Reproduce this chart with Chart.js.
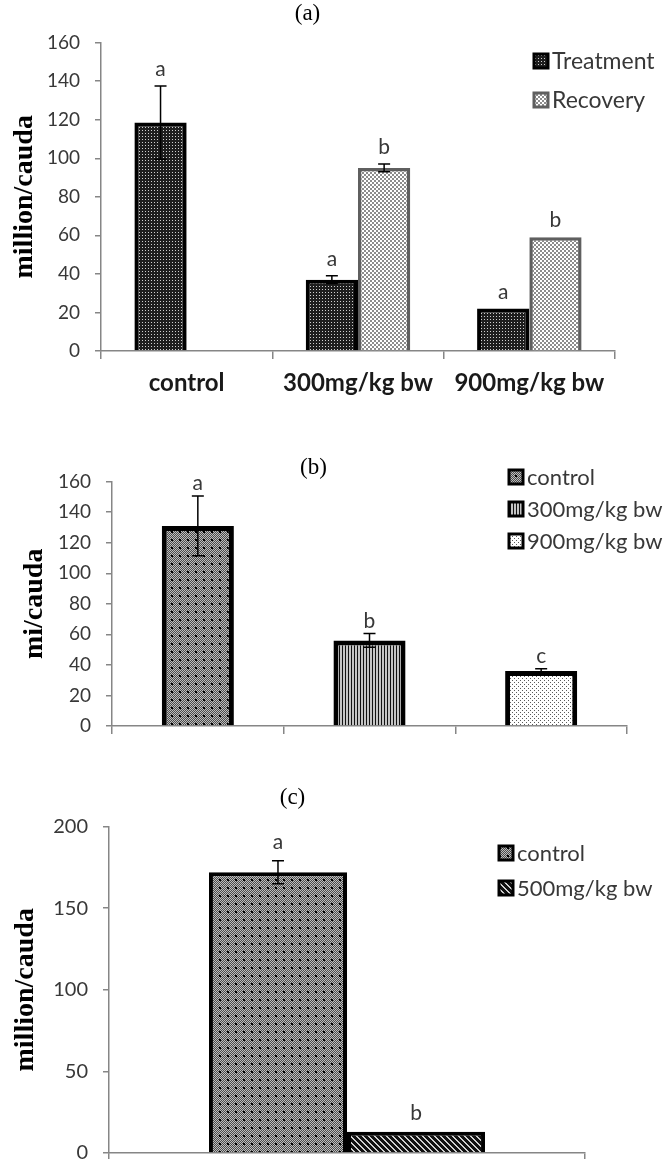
<!DOCTYPE html>
<html>
<head>
<meta charset="utf-8">
<script src="https://cdn.jsdelivr.net/npm/chart.js@4.4.1/dist/chart.umd.min.js"></script>
<style>
  html, body { margin: 0; padding: 0; background: #fff; }
  body { width: 665px; height: 1159px; position: relative; overflow: hidden; }
  .panel { position: absolute; left: 0; width: 665px; }
</style>
</head>
<body>
<div class="panel" style="top:0;height:400px"><canvas id="chartA"></canvas></div>
<div class="panel" style="top:400px;height:380px"><canvas id="chartB"></canvas></div>
<div class="panel" style="top:780px;height:400px"><canvas id="chartC"></canvas></div>
<script>
// (a) sperm count, treatment vs recovery
const groupsA = ["control", "300mg/kg bw", "900mg/kg bw"];
const treatmentA = [118.5, 37, 22];
const treatmentErrA = [19, 2, 0];
const treatmentLettersA = ["a", "a", "a"];
const recoveryA = [null, 95, 59];
const recoveryErrA = [0, 2, 0];
const recoveryLettersA = ["", "b", "b"];
const yTicksA = [0, 20, 40, 60, 80, 100, 120, 140, 160];

// (b)
const groupsB = ["control", "300mg/kg bw", "900mg/kg bw"];
const countB = [131, 56, 36];
const errB = [19.5, 4.5, 1.5];
const lettersB = ["a", "b", "c"];
const yTicksB = [0, 20, 40, 60, 80, 100, 120, 140, 160];

// (c)
const groupsC = ["control", "500mg/kg bw"];
const countC = [172, 13];
const errC = [7, 0];
const lettersC = ["a", "b"];
const yTicksC = [0, 50, 100, 150, 200];

const AXIS = "#868686";
const TXT = "#383838";

function makePattern(size, draw) {
    const c = document.createElement("canvas");
    c.width = size; c.height = size;
    const g = c.getContext("2d");
    draw(g, size);
    return g.createPattern(c, "repeat");
}

const pat = {
    darkDots: makePattern(3, (g) => {
        g.fillStyle = "#1e1e1e"; g.fillRect(0, 0, 3, 3);
        g.fillStyle = "#cfcfcf"; g.fillRect(1, 1, 1, 1);
    }),
    checker: makePattern(4, (g) => {
        g.fillStyle = "#8c8c8c"; g.fillRect(0, 0, 4, 4);
        g.fillStyle = "#ffffff"; g.fillRect(0, 0, 2, 2); g.fillRect(2, 2, 2, 2);
    }),
    grayDots: makePattern(8, (g) => {
        for (let x = 0; x < 8; x++) for (let y = 0; y < 8; y++) {
            g.fillStyle = (x + y) % 2 ? "#4a4a4a" : "#bdbdbd";
            g.fillRect(x, y, 1, 1);
        }
        g.fillStyle = "#000"; g.fillRect(3, 3, 2, 2);
    }),
    vStripes: makePattern(3, (g) => {
        g.fillStyle = "#c4c4c4"; g.fillRect(0, 0, 3, 3);
        g.fillStyle = "#111"; g.fillRect(0, 0, 1, 3);
    }),
    lightDots: makePattern(4, (g) => {
        g.fillStyle = "#fff"; g.fillRect(0, 0, 4, 4);
        g.fillStyle = "#5a5a5a"; g.fillRect(0, 0, 1, 1); g.fillRect(2, 2, 1, 1);
    }),
    diag: makePattern(6, (g) => {
        g.fillStyle = "#111"; g.fillRect(0, 0, 6, 6);
        g.fillStyle = "#cfcfcf";
        for (let x = 0; x < 6; x++) for (let y = 0; y < 6; y++) {
            const d = ((x - y) % 6 + 6) % 6;
            if (d === 0 || d === 1) g.fillRect(x, y, 1, 1);
        }
    })
};

// error bars + significance letters, positioned with the y scale
const errorBars = {
    id: "errorBars",
    afterDatasetsDraw(chart, args, opts) {
        const ctx = chart.ctx, y = chart.scales.y;
        ctx.save();
        ctx.strokeStyle = "#000";
        ctx.lineWidth = 1.5;
        ctx.font = "21px Lato";
        ctx.fillStyle = TXT;
        ctx.textAlign = "center";
        ctx.textBaseline = "alphabetic";
        chart.data.datasets.forEach((ds, i) => {
            chart.getDatasetMeta(i).data.forEach((bar, j) => {
                const v = ds.data[j];
                if (v == null) return;
                const e = (ds.errors || [])[j] || 0;
                const top = y.getPixelForValue(v + e);
                const bot = y.getPixelForValue(v - e);
                if (e > 0) {
                    ctx.beginPath();
                    ctx.moveTo(bar.x, top); ctx.lineTo(bar.x, bot);
                    ctx.moveTo(bar.x - 6, top); ctx.lineTo(bar.x + 6, top);
                    ctx.moveTo(bar.x - 6, bot); ctx.lineTo(bar.x + 6, bot);
                    ctx.stroke();
                }
                const letter = (ds.letters || [])[j];
                if (letter) ctx.fillText(letter, bar.x, Math.min(top, bar.y) - (opts.gap || 10));
            });
        });
        ctx.restore();
    }
};
Chart.register(errorBars);

function boxLegend(items, x, y, gap, size) {
    return {
        id: "boxLegend",
        afterDraw(chart) {
            const ctx = chart.ctx, s = 16;
            ctx.save();
            ctx.font = size + "px Lato";
            ctx.textBaseline = "middle";
            ctx.textAlign = "left";
            items.forEach((it, i) => {
                const cy = y + i * gap;
                ctx.fillStyle = it.fill;
                ctx.fillRect(x, cy - s / 2, s, s);
                ctx.lineWidth = 3;
                ctx.strokeStyle = it.border;
                ctx.strokeRect(x + 1, cy - s / 2 + 1, s - 2, s - 2);
                ctx.fillStyle = TXT;
                ctx.fillText(it.text, x + s + 3, cy + 1);
            });
            ctx.restore();
        }
    };
}

function yScale(ticksArr, width, title, titlePad, fontSize) {
    return {
        min: ticksArr[0],
        max: ticksArr[ticksArr.length - 1],
        ticks: { stepSize: ticksArr[1] - ticksArr[0], font: { family: "Lato", size: fontSize }, color: TXT, padding: 15 },
        grid: { drawOnChartArea: false, tickLength: 6, color: AXIS, lineWidth: 1.5 },
        border: { color: AXIS, width: 1.5 },
        title: { display: true, text: title, color: "#000", font: { family: "Liberation Serif", size: 28, weight: "bold" }, padding: { top: titlePad, bottom: 0 } },
        afterFit(s) { s.width = width; }
    };
}

function titleOpt(text, bottom) {
    return { display: true, text: text, color: "#000", font: { family: "Liberation Serif", size: 23, weight: "normal" }, padding: { top: 0, bottom: bottom } };
}

const common = {
    responsive: true,
    maintainAspectRatio: false,
    animation: false,
    events: []
};

// (a)
new Chart(document.getElementById("chartA"), {
    type: "bar",
    data: {
        labels: groupsA,
        datasets: [
            { label: "Treatment", data: treatmentA, errors: treatmentErrA, letters: treatmentLettersA,
              backgroundColor: pat.darkDots, borderColor: "#000", borderWidth: 4,
              categoryPercentage: 0.61, barPercentage: 1.0 },
            { label: "Recovery", data: recoveryA, errors: recoveryErrA, letters: recoveryLettersA,
              backgroundColor: pat.checker, borderColor: "#5f5f5f", borderWidth: 3.5,
              categoryPercentage: 0.61, barPercentage: 1.0 }
        ]
    },
    options: Object.assign({}, common, {
        layout: { padding: { top: 0, right: 50, bottom: 0, left: 0 } },
        plugins: {
            legend: { display: false },
            tooltip: { enabled: false },
            title: titleOpt("(a)", 15),
            errorBars: { gap: 10 }
        },
        scales: {
            x: {
                grid: { drawOnChartArea: false, tickLength: 8, color: AXIS, lineWidth: 1.5 },
                border: { color: AXIS, width: 1.5 },
                ticks: { font: { family: "Lato", size: 24, weight: "bold" }, color: "#1a1a1a", padding: 10, maxRotation: 0, autoSkip: false },
                afterFit(s) { s.height = 49; }
            },
            y: yScale(yTicksA, 101, "million/cauda", 8, 19)
        }
    }),
    plugins: [boxLegend([
        { text: "Treatment", fill: pat.darkDots, border: "#000" },
        { text: "Recovery", fill: pat.checker, border: "#5f5f5f" }
    ], 533, 61, 39, 23)]
});

// (b)
const fillsB = [pat.grayDots, pat.vStripes, pat.lightDots];
new Chart(document.getElementById("chartB"), {
    type: "bar",
    data: {
        labels: groupsB,
        datasets: [
            { label: "mi/cauda", data: countB, errors: errB, letters: lettersB,
              backgroundColor: fillsB, borderColor: "#000", borderWidth: 5,
              categoryPercentage: 0.42, barPercentage: 1.0 }
        ]
    },
    options: Object.assign({}, common, {
        layout: { padding: { top: 54, right: 38, bottom: 0, left: 0 } },
        plugins: {
            legend: { display: false },
            tooltip: { enabled: false },
            title: titleOpt("(b)", 0),
            errorBars: { gap: 6 }
        },
        scales: {
            x: {
                grid: { drawOnChartArea: false, tickLength: 8, color: AXIS, lineWidth: 1.5 },
                border: { color: AXIS, width: 1.5 },
                ticks: { display: false },
                afterFit(s) { s.height = 54; }
            },
            y: yScale(yTicksB, 112, "mi/cauda", 18, 19)
        }
    }),
    plugins: [boxLegend(groupsB.map((g, i) => ({ text: g, fill: fillsB[i], border: "#000" })), 508, 77, 32, 22)]
});

// (c)
const fillsC = [pat.grayDots, pat.diag];
new Chart(document.getElementById("chartC"), {
    type: "bar",
    data: {
        labels: [""],
        datasets: groupsC.map((g, i) => ({
            label: g, data: [countC[i]], errors: [errC[i]], letters: [lettersC[i]],
            backgroundColor: fillsC[i], borderColor: "#000", borderWidth: 4,
            categoryPercentage: 0.58, barPercentage: 1.0
        }))
    },
    options: Object.assign({}, common, {
        layout: { padding: { top: 4, right: 80, bottom: 0, left: 0 } },
        plugins: {
            legend: { display: false },
            tooltip: { enabled: false },
            title: titleOpt("(c)", 15),
            errorBars: { gap: 12 }
        },
        scales: {
            x: {
                grid: { drawOnChartArea: false, tickLength: 8, color: AXIS, lineWidth: 1.5 },
                border: { color: AXIS, width: 1.5 },
                ticks: { display: false },
                afterFit(s) { s.height = 27; }
            },
            y: yScale(yTicksC, 109, "million/cauda", 9, 20)
        }
    }),
    plugins: [boxLegend(groupsC.map((g, i) => ({ text: g, fill: fillsC[i], border: "#000" })), 498, 73, 35, 22)]
});
</script>
</body>
</html>
